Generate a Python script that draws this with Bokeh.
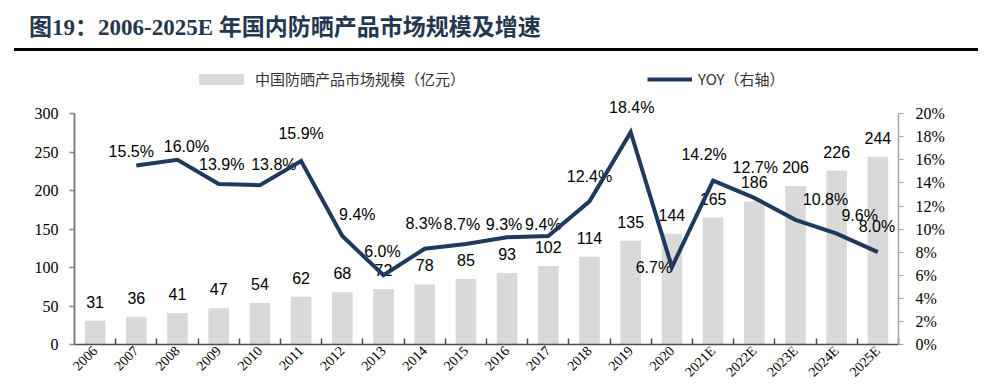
import math
from bokeh.plotting import figure
from bokeh.models import (Range1d, LinearAxis, FixedTicker, PrintfTickFormatter,
                          Legend, LegendItem, Div)
from bokeh.layouts import column
from bokeh.core.properties import value
from bokeh.embed import file_html
from bokeh.resources import INLINE

# ---------------- data ----------------
years = ["2006", "2007", "2008", "2009", "2010", "2011", "2012", "2013", "2014",
         "2015", "2016", "2017", "2018", "2019", "2020",
         "2021E", "2022E", "2023E", "2024E", "2025E"]
market_size = [31, 36, 41, 47, 54, 62, 68, 72, 78, 85, 93, 102, 114, 135, 144,
               165, 186, 206, 226, 244]
yoy_years = years[1:]
yoy_pct = [15.5, 16.0, 13.9, 13.8, 15.9, 9.4, 6.0, 8.3, 8.7, 9.3, 9.4, 12.4,
           18.4, 6.7, 14.2, 12.7, 10.8, 9.6, 8.0]
left_ticks = [0, 50, 100, 150, 200, 250, 300]
right_ticks = [0, 2, 4, 6, 8, 10, 12, 14, 16, 18, 20]

title_text = "图19：2006-2025E 年国内防晒产品市场规模及增速"
bar_legend_text = "中国防晒产品市场规模（亿元）"
line_legend_text = "YOY（右轴）"

# ---------------- styles ----------------
BAR_COLOR = "#d9d9d9"
LINE_COLOR = "#1f3a5c"
# label offsets (px) for YOY labels, style only
yoy_dx = [-5, 9, 3, 14, 0, 15, -1, -1, -4, -3, -5, 0, 1, -18, -9, 1, 30, 23, -1]
yoy_dy = [-14, -13, -20, -21, -27, -22, -24, -25, -20, -13, -12, -25, -25, 0,
          -26, -30, -20, -18, -26]

Y_MAX = 360
PCT_MAX = Y_MAX * 20 / 300

x_bar = list(range(len(years)))
x_yoy = [years.index(y) for y in yoy_years]

title_div = Div(
    text=('<div style="margin-left:14px;width:964px;height:51px;box-sizing:border-box;'
          'border-bottom:3px solid #000;padding:14px 0 0 15px;white-space:nowrap;'
          'font-weight:bold;font-size:23px;font-family:\'Liberation Serif\',\'Noto Sans CJK SC\';'
          'color:#23384f;line-height:27px;">' + title_text + '</div>'),
    width=978, height=53, margin=0)

p = figure(width=978, height=334, x_range=Range1d(-0.5, len(years) - 0.5),
           y_range=Range1d(0, Y_MAX), output_backend="svg", toolbar_location=None,
           x_axis_type=None, y_axis_type=None,
           min_border_left=74, min_border_right=80, min_border_top=14,
           min_border_bottom=40, outline_line_color=None, margin=0)
p.extra_y_ranges = {"pct": Range1d(0, PCT_MAX)}

bars = p.vbar(x=x_bar, top=market_size, width=0.5, fill_color=BAR_COLOR,
              line_color=None)

p.text(x=x_bar, y=market_size, text=[str(v) for v in market_size],
       text_align="center", text_baseline="middle", y_offset=-19,
       text_font=value("Liberation Sans"), text_font_size="16px",
       text_color="#000000")

p.text(x=x_yoy, y=yoy_pct, y_range_name="pct",
       text=[f"{v:.1f}%" for v in yoy_pct],
       x_offset=yoy_dx, y_offset=yoy_dy,
       text_align="center", text_baseline="middle",
       text_font=value("Liberation Sans"), text_font_size="16px",
       text_color="#000000")

line = p.line(x=x_yoy, y=yoy_pct, y_range_name="pct", line_color=LINE_COLOR,
              line_width=4, line_join="miter")

# axes
xaxis = LinearAxis(
    ticker=FixedTicker(ticks=x_bar, minor_ticks=[i + 0.5 for i in x_bar]),
    major_label_overrides={i: y for i, y in enumerate(years)})
xaxis.major_tick_in = 0
xaxis.major_tick_out = 0
xaxis.minor_tick_in = 6
xaxis.minor_tick_out = 0
xaxis.axis_line_color = "#4d4d4d"
xaxis.axis_line_width = 1.5
xaxis.minor_tick_line_color = "#4d4d4d"
xaxis.minor_tick_line_width = 1.5
xaxis.major_label_orientation = math.pi / 4
xaxis.major_label_text_font = "Liberation Serif"
xaxis.major_label_text_font_size = "14px"
xaxis.major_label_text_color = "#000000"
xaxis.major_label_standoff = 4
p.add_layout(xaxis, "below")

yaxis = LinearAxis(ticker=FixedTicker(ticks=left_ticks), bounds=(0, 300))
yaxis.major_tick_in = 0
yaxis.major_tick_out = 5
yaxis.minor_tick_line_color = None
yaxis.axis_line_color = "#7f7f7f"
yaxis.axis_line_width = 2
yaxis.major_tick_line_color = "#7f7f7f"
yaxis.major_tick_line_width = 1.5
yaxis.major_label_text_font = "Liberation Serif"
yaxis.major_label_text_font_size = "16px"
yaxis.major_label_text_color = "#000000"
yaxis.major_label_standoff = 11
p.add_layout(yaxis, "left")

raxis = LinearAxis(y_range_name="pct", ticker=FixedTicker(ticks=right_ticks),
                   bounds=(0, 20), formatter=PrintfTickFormatter(format="%d%%"))
raxis.major_tick_in = 0
raxis.major_tick_out = 5
raxis.minor_tick_line_color = None
raxis.axis_line_color = "#a6a6a6"
raxis.axis_line_width = 1.5
raxis.major_tick_line_color = "#a6a6a6"
raxis.major_label_text_font = "Liberation Serif"
raxis.major_label_text_font_size = "16px"
raxis.major_label_text_color = "#000000"
raxis.major_label_standoff = 12
p.add_layout(raxis, "right")

# legends
def make_legend(item, loc, gw, gh):
    leg = Legend(items=[item], location=loc, orientation="horizontal")
    leg.padding = 0
    leg.margin = 0
    leg.border_line_color = None
    leg.background_fill_alpha = 0
    leg.glyph_width = gw
    leg.glyph_height = gh
    leg.label_height = 20
    leg.label_standoff = 6
    leg.label_text_font = "Noto Sans CJK SC"
    leg.label_text_font_size = "15px"
    leg.label_text_color = "#333333"
    return leg

leg1 = make_legend(LegendItem(label=bar_legend_text, renderers=[bars]), (119, 255), 56, 14)
leg2 = make_legend(LegendItem(label=line_legend_text, renderers=[line]), (573, 255), 45, 14)
p.add_layout(leg1, "center")
p.add_layout(leg2, "center")

layout = column(title_div, p, spacing=0)
open("out.html", "w").write(file_html(layout, INLINE))
